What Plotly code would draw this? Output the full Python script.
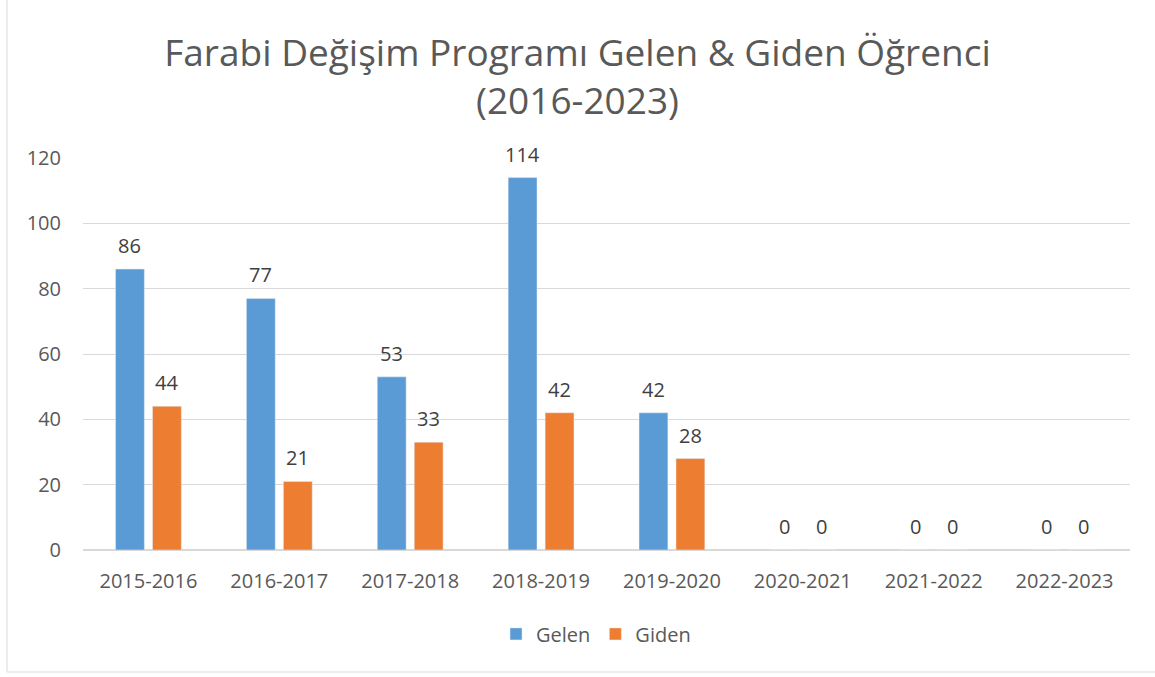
import plotly.graph_objects as go

yillar = ["2015-2016", "2016-2017", "2017-2018", "2018-2019",
          "2019-2020", "2020-2021", "2021-2022", "2022-2023"]
gelen = [86, 77, 53, 114, 42, 0, 0, 0]
giden = [44, 21, 33, 42, 28, 0, 0, 0]

font_ailesi = "Open Sans, Liberation Sans, sans-serif"
gri = "#595959"

fig = go.Figure()

fig.add_trace(go.Bar(x=yillar, y=gelen, name="Gelen", marker_color="#5b9bd5"))
fig.add_trace(go.Bar(x=yillar, y=giden, name="Giden", marker_color="#ed7d31"))

# veri etiketleri (çubukların biraz üstünde)
for seri, kayma in [(gelen, -18.5), (giden, 18.5)]:
    for yil, deger in zip(yillar, seri):
        fig.add_annotation(x=yil, y=deger, text=str(deger), showarrow=False,
                           xshift=kayma, yshift=8, yanchor="bottom",
                           font=dict(size=20, color="#404040"))

fig.update_layout(
    width=1155, height=677,
    paper_bgcolor="white", plot_bgcolor="white",
    font=dict(family=font_ailesi, color=gri, size=20),
    title=dict(text="Farabi Değişim Programı Gelen & Giden Öğrenci<br>(2016-2023)",
               x=0.5, xanchor="center", y=0.903, yanchor="middle",
               font=dict(size=37, color=gri)),
    margin=dict(l=83, r=25, t=158, b=127),
    barmode="group", bargap=0.435, bargroupgap=0.22,
    legend=dict(orientation="h", x=0.49, xanchor="center", y=-0.214, yanchor="middle",
                font=dict(size=20, color=gri), traceorder="normal"),
    showlegend=True,
)

fig.update_yaxes(range=[0, 120], dtick=20, showgrid=True, gridcolor="#d9d9d9",
                 gridwidth=1, zeroline=True, zerolinecolor="#d9d9d9",
                 tickfont=dict(size=20, color=gri), ticks="", ticklabelstandoff=21)
fig.update_xaxes(showline=True, linecolor="#d9d9d9", tickfont=dict(size=20, color=gri),
                 ticks="", ticklabelstandoff=13)

# dış çerçeve
fig.add_shape(type="rect", xref="paper", yref="paper",
              x0=(7 - 83) / 1047, x1=(1160 - 83) / 1047,
              y0=-(672 - 550) / 392, y1=(550 + 5) / 392,
              line=dict(color="#d9d9d9", width=1), layer="below")

fig.write_html("out.html", config={"displayModeBar": False},
               post_script="document.body.style.margin='0';")
